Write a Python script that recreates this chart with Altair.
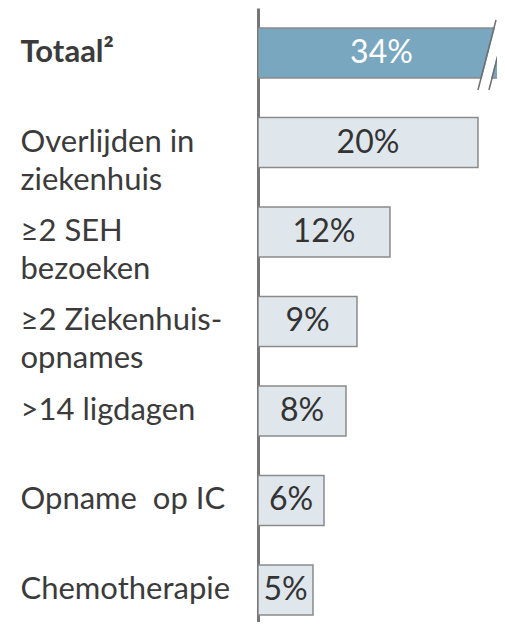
import altair as alt
import pandas as pd

categories = ["Totaal²", "Overlijden in|ziekenhuis", "≥2 SEH|bezoeken",
              "≥2 Ziekenhuis-|opnames", ">14 ligdagen", "Opname\u00a0 op IC",
              "Chemotherapie"]
values = [34, 20, 12, 9, 8, 6, 5]
value_labels = ["34%", "20%", "12%", "9%", "8%", "6%", "5%"]
highlight = [True, False, False, False, False, False, False]

XMAX = 21.73   # visible part of the axis (the total bar is cut)
TEXT_CAP = 22.45

df = pd.DataFrame({"cat": categories, "value": values,
                   "label": value_labels, "hl": highlight})

# break marks on the cut bar (in data units along x)
brk = pd.DataFrame({"x": [21.64, 22.14, 22.64], "x2": [20.0, 20.5, 21.0],
                    "kind": ["line", "gap", "line"]})

FONT = "Lato"
TXT = "#3b3b3b"

yscale = alt.Scale(domain=categories, paddingInner=0.441, paddingOuter=0.151, align=0.74)
xscale = alt.Scale(domain=[0, XMAX], nice=False, zero=True)

y_enc = alt.Y("cat:N", scale=yscale, sort=categories, title=None,
              axis=alt.Axis(
                  labelExpr="split(datum.label, '|')",
                  labelAlign="left", labelPadding=238, labelFont=FONT,
                  labelFontSize=31, labelColor=TXT, labelLineHeight=38,
                  labelLimit=0,
                  labelFontWeight={"condition": {"test": "datum.value === 'Totaal²'", "value": "bold"},
                                   "value": "normal"},
                  ticks=False, domainColor="#767676", domainWidth=3,
                  grid=False))

bars = alt.Chart(df).mark_bar(clip=True, stroke="#8a8a8a", strokeWidth=1.5).encode(
    x=alt.X("value:Q", scale=xscale, axis=None),
    y=y_enc,
    color=alt.condition("datum.hl", alt.value("#79a7c0"), alt.value("#dfe7ed")),
)

texts = alt.Chart(df).transform_calculate(
    mid=f"min(datum.value, {TEXT_CAP}) / 2"
).mark_text(font=FONT, fontSize=32, baseline="middle", align="center").encode(
    x=alt.X("mid:Q", scale=xscale, axis=None),
    y=alt.Y("cat:N", scale=yscale, sort=categories),
    text="label:N",
    color=alt.condition("datum.hl", alt.value("#ffffff"), alt.value("#333333")),
)

gap = alt.Chart(brk).transform_filter("datum.kind == 'gap'").mark_rule(
    color="white", strokeWidth=9).encode(
    x=alt.X("x:Q", scale=xscale), x2="x2:Q",
    y=alt.value(12), y2=alt.value(82))

lines = alt.Chart(brk).transform_filter("datum.kind == 'line'").mark_rule(
    color="#6e6e6e", strokeWidth=1.5).encode(
    x=alt.X("x:Q", scale=xscale), x2="x2:Q",
    y=alt.value(12), y2=alt.value(82))

chart = alt.layer(bars, texts, gap, lines).properties(
    width=239, height=614,
    autosize=alt.AutoSizeParams(type="none"),
    padding={"left": 250, "top": 0, "right": 0, "bottom": 0},
).configure_view(stroke=None)

chart.save("out.html", embed_options={"renderer": "svg", "actions": False})
